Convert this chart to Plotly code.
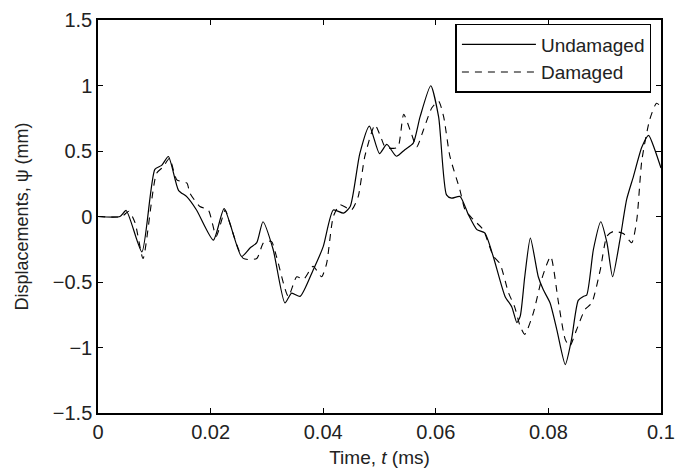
import plotly.graph_objects as go

t_und = [0, 0.0039, 0.005, 0.0078, 0.0101, 0.0113, 0.0125, 0.0143, 0.0158, 0.0175, 0.0205, 0.0224,
         0.0255, 0.027, 0.0282, 0.0293, 0.0311, 0.0332, 0.0344, 0.0359, 0.0382, 0.04, 0.0418, 0.0436,
         0.0448, 0.0465, 0.0482, 0.05, 0.0513, 0.053, 0.0545, 0.056, 0.0572, 0.0591, 0.0605, 0.0619,
         0.0628, 0.0643, 0.0658, 0.0673, 0.0687, 0.0702, 0.0723, 0.0735, 0.0744, 0.075, 0.0758, 0.0768,
         0.0782, 0.0791, 0.0803, 0.0815, 0.083, 0.0841, 0.0853, 0.0862, 0.0868, 0.088, 0.0893, 0.0904,
         0.0914, 0.0927, 0.0939, 0.0951, 0.0966, 0.0978, 0.0989, 0.1]
y_und = [0, 0, 0.046, -0.27, 0.36, 0.39, 0.458, 0.20, 0.15, 0.05, -0.18, 0.06,
         -0.305, -0.24, -0.20, -0.04, -0.25, -0.66, -0.585, -0.61, -0.41, -0.23, 0.05, 0.026,
         0.076, 0.48, 0.69, 0.48, 0.55, 0.46, 0.51, 0.56, 0.76, 0.998, 0.76, 0.165,
         0.14, 0.153, 0.013, -0.10, -0.125, -0.305, -0.61, -0.69, -0.81, -0.76, -0.46, -0.165,
         -0.46, -0.56, -0.66, -0.865, -1.13, -0.94, -0.64, -0.61, -0.6, -0.25, -0.04, -0.2,
         -0.46, -0.18, 0.13, 0.305, 0.53, 0.62, 0.51, 0.37]

t_dam = [0, 0.0042, 0.0055, 0.0066, 0.008, 0.0104, 0.0116, 0.0127, 0.014, 0.0158, 0.0163, 0.0181,
         0.0196, 0.021, 0.0226, 0.0234, 0.0258, 0.0282, 0.0294, 0.0308, 0.0317, 0.0338, 0.0353,
         0.0365, 0.0382, 0.0397, 0.0406, 0.0418, 0.043, 0.045, 0.0462, 0.0474, 0.0492, 0.0502,
         0.051, 0.0525, 0.0533, 0.0543, 0.0556, 0.0566, 0.0578, 0.0593, 0.0605, 0.0614, 0.0625,
         0.0643, 0.0652, 0.0667, 0.0684, 0.0702, 0.0714, 0.0729, 0.074, 0.075, 0.0758, 0.0773,
         0.0788, 0.0804, 0.0818, 0.083, 0.0838, 0.085, 0.0865, 0.0877, 0.0892, 0.0904, 0.0915,
         0.0933, 0.0948, 0.0957, 0.0966, 0.098, 0.0992, 0.1]
y_dam = [0, 0, 0.04, -0.05, -0.32, 0.33, 0.38, 0.445, 0.28, 0.255, 0.18, 0.076,
         0.05, -0.15, 0.05, -0.05, -0.32, -0.32, -0.2, -0.19, -0.305, -0.61, -0.46,
         -0.48, -0.38, -0.46, -0.36, 0.0, 0.09, 0.05, 0.15, 0.46, 0.70, 0.61,
         0.53, 0.52, 0.53, 0.78, 0.64, 0.53, 0.66, 0.83, 0.88, 0.76, 0.46,
         0.2, 0.05, -0.025, -0.1, -0.3, -0.36, -0.58, -0.69, -0.84, -0.90, -0.74,
         -0.48, -0.305, -0.66, -0.94, -0.99, -0.865, -0.71, -0.66, -0.41, -0.15, -0.115,
         -0.13, -0.2, -0.025, 0.43, 0.74, 0.865, 0.84]

x_ticks = [0, 0.02, 0.04, 0.06, 0.08, 0.1]
x_ticktext = ["0", "0.02", "0.04", "0.06", "0.08", "0.1"]
y_ticks = [-1.5, -1, -0.5, 0, 0.5, 1, 1.5]
y_ticktext = ["\u22121.5", "\u22121", "\u22120.5", "0", "0.5", "1", "1.5"]

font = "Liberation Sans, Arial, Helvetica, sans-serif"

fig = go.Figure()
fig.add_trace(go.Scatter(x=t_und, y=y_und, mode="lines", name="Undamaged",
                         line=dict(color="black", width=1.2, shape="spline", smoothing=0.6)))
fig.add_trace(go.Scatter(x=t_dam, y=y_dam, mode="lines", name="Damaged",
                         line=dict(color="black", width=1.1, dash="7px,6px", shape="spline", smoothing=0.6)))

axis_common = dict(showgrid=False, zeroline=False, showline=True, linecolor="black", linewidth=1.5,
                   mirror="ticks", ticks="inside", ticklen=5, tickcolor="black", automargin=False,
                   tickfont=dict(family=font, size=20, color="#222"))

fig.update_layout(
    width=677, height=476,
    margin=dict(l=98, r=16, t=20, b=63),
    paper_bgcolor="white", plot_bgcolor="white",
    font=dict(family=font, size=20, color="#222"),
    xaxis=dict(range=[0, 0.1], tickvals=x_ticks, ticktext=x_ticktext,
               title=dict(text="Time, <i>t</i> (ms)", font=dict(size=19), standoff=9), **axis_common),
    yaxis=dict(range=[-1.5, 1.5], tickvals=y_ticks, ticktext=y_ticktext,
               title=dict(text="Displacements, \u03c8 (mm)", font=dict(size=18), standoff=19), **axis_common),
    legend=dict(x=0.983, y=0.99, xanchor="right", yanchor="top", bgcolor="white",
                bordercolor="black", borderwidth=1.5, itemwidth=74,
                font=dict(family=font, size=19, color="#222"), tracegroupgap=0),
    showlegend=True,
)

fig.write_html("out.html")
